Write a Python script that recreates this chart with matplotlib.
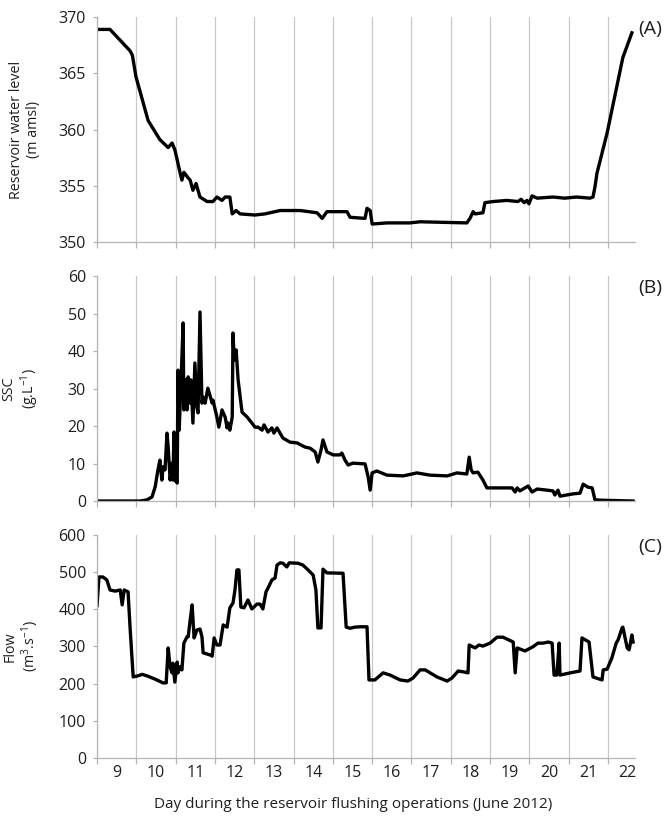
import numpy as np
import matplotlib
matplotlib.use("Agg")
import matplotlib.pyplot as plt

plt.rcParams['font.family'] = ['Open Sans', 'DejaVu Sans']
plt.rcParams['mathtext.default'] = 'regular'

# (A) reservoir water level, m amsl
level_t = [8.50, 8.83, 9.34, 9.40, 9.49, 9.80, 10.10, 10.31, 10.41, 10.48, 10.54, 10.61, 10.66,
           10.71, 10.82, 10.87, 10.94, 11.02, 11.12, 11.30, 11.45, 11.55, 11.68, 11.76, 11.88,
           11.94, 12.04, 12.14, 12.52, 12.77, 13.16, 13.67, 14.10, 14.23, 14.35, 14.86, 14.94,
           15.32, 15.37, 15.45, 15.50, 15.88, 16.46, 16.72, 17.91, 17.99, 18.07, 18.12, 18.32,
           18.37, 18.58, 18.93, 19.21, 19.29, 19.37, 19.44, 19.49, 19.57, 19.70, 20.10, 20.40,
           20.70, 21.04, 21.12, 21.17, 21.22, 21.48, 21.88, 22.11]
level = [368.9, 368.9, 367.0, 366.6, 364.7, 360.8, 359.1, 358.4, 358.8, 358.2, 357.3, 356.2, 355.5,
         356.2, 355.7, 355.5, 354.6, 355.2, 354.0, 353.6, 353.6, 354.0, 353.7, 354.0, 354.0,
         352.5, 352.8, 352.5, 352.4, 352.5, 352.8, 352.8, 352.6, 352.1, 352.7, 352.7, 352.2,
         352.1, 353.0, 352.8, 351.6, 351.7, 351.7, 351.8, 351.7, 352.1, 352.7, 352.5, 352.6,
         353.5, 353.6, 353.7, 353.6, 353.8, 353.5, 353.7, 353.4, 354.1, 353.9, 354.0, 353.9,
         354.0, 353.9, 354.0, 354.9, 356.1, 359.7, 366.4, 368.6]

# (B) suspended sediment concentration, g/L
ssc_t = [8.50, 9.59, 9.77, 9.90, 9.98, 10.05, 10.10, 10.15, 10.18, 10.23, 10.28, 10.31,
         10.36, 10.41, 10.43, 10.46, 10.48, 10.54, 10.56, 10.59, 10.64, 10.69, 10.71, 10.76,
         10.79, 10.82, 10.87, 10.89, 10.94, 10.99, 11.04, 11.07, 11.12, 11.17, 11.20, 11.25,
         11.32, 11.43, 11.45, 11.55, 11.60, 11.68, 11.76, 11.81, 11.83, 11.88, 11.94, 11.96,
         11.99, 12.04, 12.09, 12.19, 12.32, 12.44, 12.52, 12.60, 12.70, 12.75, 12.85, 12.95,
         13.00, 13.08, 13.23, 13.41, 13.59, 13.79, 13.92, 14.05, 14.12, 14.20, 14.25, 14.35,
         14.51, 14.68, 14.73, 14.81, 14.89, 15.01, 15.32, 15.40, 15.45, 15.50, 15.62, 15.88,
         16.29, 16.64, 16.97, 17.41, 17.66, 17.91, 17.97, 18.02, 18.07, 18.19, 18.32, 18.42,
         18.58, 19.06, 19.14, 19.19, 19.26, 19.47, 19.57, 19.70, 19.95, 20.10, 20.15, 20.23,
         20.28, 20.61, 20.79, 20.87, 20.99, 21.10, 21.17, 21.38, 22.14]
ssc = [0.0, 0.0, 0.3, 1.1, 3.8, 8.3, 10.9, 5.6, 9.1, 8.3, 18.1, 14.4,
       5.6, 10.1, 5.6, 18.4, 5.6, 4.8, 34.9, 18.9, 32.3, 47.5, 24.3, 32.3,
       24.3, 33.1, 26.1, 32.3, 20.8, 36.8, 25.1, 23.5, 50.4, 26.1, 27.7, 26.1,
       30.1, 26.1, 26.9, 22.4, 19.7, 24.3, 22.4, 19.5, 20.8, 18.9, 22.4, 44.8,
       37.6, 40.3, 32.3, 23.7, 22.4, 20.8, 19.7, 19.7, 18.9, 20.3, 18.4, 19.5,
       18.1, 19.5, 16.8, 15.7, 15.5, 14.4, 14.1, 13.1, 10.4, 13.6, 16.3, 13.1,
       12.3, 12.3, 12.8, 10.9, 9.6, 10.1, 9.9, 6.4, 2.9, 7.5, 8.0, 6.9,
       6.7, 7.5, 6.9, 6.7, 7.5, 7.2, 11.7, 8.3, 7.5, 7.7, 5.6, 3.5,
       3.5, 3.5, 2.4, 3.5, 2.7, 4.0, 2.4, 3.2, 2.9, 2.7, 1.6, 2.9,
       1.3, 1.9, 2.1, 4.5, 3.7, 3.5, 0.3, 0.2, 0.0]

# (C) flow, m3/s
flow_t = [8.50, 8.55, 8.65, 8.75, 8.83, 8.96, 9.09, 9.14, 9.19, 9.29, 9.34, 9.42,
          9.54, 9.65, 9.77, 9.98, 10.18, 10.26, 10.31, 10.36, 10.41, 10.43, 10.48, 10.54,
          10.56, 10.61, 10.66, 10.71, 10.79, 10.82, 10.87, 10.92, 10.97, 11.04, 11.12, 11.17,
          11.20, 11.38, 11.43, 11.48, 11.55, 11.63, 11.71, 11.81, 11.88, 11.96, 12.01, 12.06,
          12.11, 12.16, 12.24, 12.34, 12.44, 12.57, 12.65, 12.72, 12.80, 12.85, 12.95, 13.03,
          13.08, 13.16, 13.23, 13.33, 13.39, 13.61, 13.74, 13.87, 14.00, 14.07, 14.12, 14.20,
          14.25, 14.35, 14.76, 14.84, 14.94, 15.06, 15.19, 15.37, 15.42, 15.57, 15.78, 15.96,
          16.21, 16.41, 16.54, 16.72, 16.85, 17.15, 17.41, 17.53, 17.69, 17.86, 17.94, 17.97,
          18.12, 18.22, 18.32, 18.50, 18.68, 18.83, 19.09, 19.14, 19.19, 19.39, 19.59, 19.72,
          19.85, 19.98, 20.08, 20.13, 20.20, 20.26, 20.28, 20.54, 20.79, 20.84, 21.02, 21.12,
          21.35, 21.38, 21.48, 21.60, 21.71, 21.76, 21.86, 21.88, 21.99, 22.04, 22.11, 22.14]
flow = [410, 487, 487, 479, 452, 449, 452, 412, 452, 447, 352, 218,
        221, 225, 221, 212, 202, 202, 296, 245, 229, 255, 204, 258,
        229, 245, 237, 309, 326, 326, 371, 412, 323, 344, 347, 326,
        283, 277, 274, 323, 304, 304, 358, 352, 404, 417, 452, 506,
        506, 406, 404, 425, 401, 414, 414, 401, 447, 457, 479, 484,
        519, 525, 524, 514, 525, 524, 519, 506, 492, 452, 350, 350,
        508, 498, 497, 352, 349, 352, 353, 353, 210, 210, 229, 223,
        210, 207, 215, 237, 237, 218, 207, 215, 234, 231, 229, 304,
        296, 304, 301, 309, 325, 325, 312, 229, 296, 288, 299, 309,
        309, 312, 309, 223, 223, 309, 223, 229, 234, 323, 312, 218,
        210, 237, 239, 269, 309, 318, 350, 352, 296, 291, 331, 312]

days = list(range(9, 23))
bounds = [d - 0.5 for d in days]

panels = [
    (level_t, level, 'Reservoir water level\n(m amsl)', (350, 370), np.arange(350, 371, 5), '(A)'),
    (ssc_t, ssc, 'SSC\n(g.L$^{-1}$)', (0, 60), np.arange(0, 61, 10), '(B)'),
    (flow_t, flow, 'Flow\n(m$^{3}$.s$^{-1}$)', (0, 600), np.arange(0, 601, 100), '(C)'),
]
rects = [
    [0.1446, 0.7034, 0.8018, 0.2757],
    [0.1446, 0.3860, 0.8018, 0.2757],
    [0.1446, 0.0711, 0.8018, 0.2733],
]

fig = plt.figure(figsize=(6.71, 8.16), dpi=100)
axis_grey = '#b4b4b4'
txt = '#1e1e1e'

for i, (t, y, ylab, ylim, yticks, tag) in enumerate(panels):
    ax = fig.add_axes(rects[i])
    ax.plot(t, y, color='black', lw=2.4, solid_joinstyle='round')
    ax.set_xlim(8.5, 22.19)
    ax.set_ylim(*ylim)
    ax.set_yticks(yticks)
    ax.set_xticks(days)
    ax.set_xticks(bounds, minor=True)
    ax.grid(True, which='minor', axis='x', color='#c8c8c8', lw=0.9)
    ax.tick_params(axis='x', which='major', length=0, labelsize=11.5, pad=5, colors=txt)
    ax.tick_params(axis='x', which='minor', length=4, width=0.9, color=axis_grey)
    ax.tick_params(axis='y', length=3, width=0.9, color=axis_grey, labelsize=11.5, pad=5,
                   labelcolor=txt)
    if i < 2:
        ax.tick_params(axis='x', which='major', labelbottom=False)
    for s in ('top', 'right'):
        ax.spines[s].set_visible(False)
    for s in ('left', 'bottom'):
        ax.spines[s].set_color(axis_grey)
        ax.spines[s].set_linewidth(0.9)
    ax.set_ylabel(ylab, fontsize=10.3, color=txt, linespacing=1.1)
    ax.yaxis.set_label_coords(-0.105, 0.5)
    ax.text(1.006, 0.945, tag, transform=ax.transAxes, fontsize=14, ha='left', va='center',
            color=txt)

fig.text(353 / 671, 0.0135, 'Day during the reservoir flushing operations (June 2012)',
         ha='center', va='center', fontsize=11, color=txt)

fig.savefig('out.png', dpi=100)
